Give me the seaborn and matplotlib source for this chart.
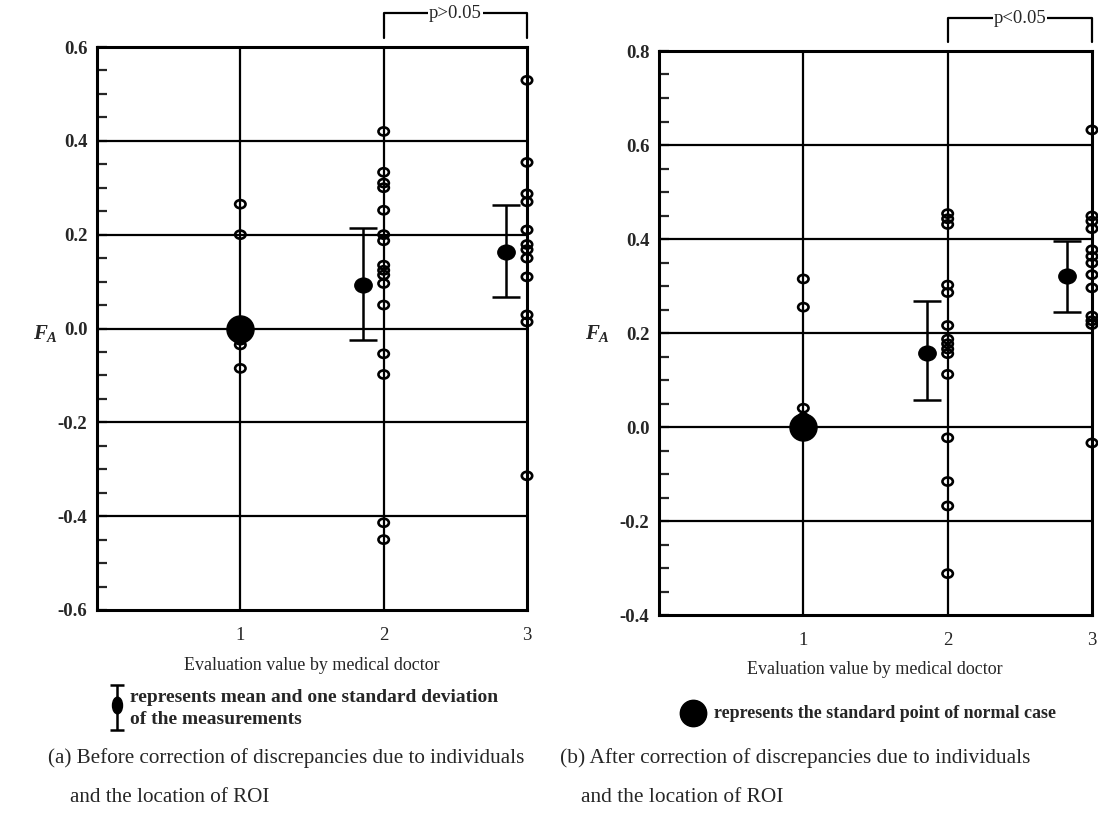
import numpy as np
import pandas as pd
import matplotlib
matplotlib.use("Agg")
import matplotlib.pyplot as plt
import seaborn as sns
from matplotlib.path import Path
from matplotlib.ticker import MultipleLocator
import matplotlib.transforms as mtransforms

# ---------------- data ----------------
categories = [1, 2, 3]

# (a) before correction
a_eval1 = [0.265, 0.20, 0.005, -0.005, -0.025, -0.035, -0.085]
a_eval2 = [0.42, 0.333, 0.31, 0.30, 0.252, 0.20, 0.187, 0.135, 0.124, 0.114,
           0.096, 0.05, -0.054, -0.098, -0.414, -0.45]
a_eval3 = [0.529, 0.354, 0.287, 0.27, 0.21, 0.179, 0.168, 0.15, 0.11, 0.029,
           0.014, -0.314]
a_mean_x = [1.855, 2.855]
a_mean = [0.093, 0.164]
a_upper = [0.214, 0.263]
a_lower = [-0.024, 0.068]
a_yticks = [-0.6, -0.4, -0.2, 0.0, 0.2, 0.4, 0.6]
a_ylim = (-0.6, 0.6)
a_ptext = "p>0.05"

# (b) after correction
b_eval1 = [0.315, 0.255, 0.04, 0.02]
b_eval2 = [0.454, 0.443, 0.431, 0.302, 0.286, 0.216, 0.187, 0.177, 0.166,
           0.156, 0.112, -0.023, -0.116, -0.168, -0.312]
b_eval3 = [0.632, 0.449, 0.438, 0.422, 0.377, 0.363, 0.349, 0.324, 0.296,
           0.236, 0.226, 0.218, -0.034]
b_mean_x = [1.855, 2.83]
b_mean = [0.157, 0.321]
b_upper = [0.268, 0.396]
b_lower = [0.058, 0.244]
b_yticks = [-0.4, -0.2, 0.0, 0.2, 0.4, 0.6, 0.8]
b_ylim = (-0.4, 0.8)
b_ptext = "p<0.05"

standard_point = (1, 0.0)

xlabel = "Evaluation value by medical doctor"
legend_a = ["represents mean and one standard deviation", "of the measurements"]
legend_b = "represents the standard point of normal case"
caption_a = ["(a) Before correction of discrepancies due to individuals",
             "and the location of ROI"]
caption_b = ["(b) After correction of discrepancies due to individuals",
             "and the location of ROI"]

# ---------------- style ----------------
sns.set_style("white")
SERIF = ["Liberation Serif", "DejaVu Serif"]
plt.rcParams["font.family"] = SERIF
plt.rcParams["mathtext.fontset"] = "custom"
plt.rcParams["mathtext.it"] = "Liberation Serif:italic:bold"
plt.rcParams["mathtext.rm"] = "Liberation Serif:bold"

W, H = 1098, 823
fig = plt.figure(figsize=(W / 100, H / 100), dpi=100)
fig.patch.set_facecolor("white")

circ = Path.unit_circle()
ellipse = Path(circ.vertices * np.array([1.0, 0.78]), circ.codes)
fat_ellipse = Path(circ.vertices * np.array([1.0, 0.85]), circ.codes)


def px2fig(x, y):
    return x / W, 1 - y / H


def make_panel(rect, e1, e2, e3, mx, mm, mu, ml, yticks, ylim, ptext, plab_y):
    ax = fig.add_axes(rect)
    df = pd.DataFrame({
        "x": [1] * len(e1) + [2] * len(e2) + [3] * len(e3),
        "y": e1 + e2 + e3,
    })
    ax.set_xlim(0, 3)
    ax.set_ylim(*ylim)
    # grid
    for yv in yticks[1:-1]:
        ax.axhline(yv, color="black", lw=1.6, zorder=1)
    for xv in categories[:-1]:
        ax.axvline(xv, color="black", lw=1.6, zorder=1)
    for s in ax.spines.values():
        s.set_linewidth(2.2)
        s.set_color("black")
        s.set_zorder(2)
    # standard point
    ax.plot([standard_point[0]], [standard_point[1]], marker="o", ms=19.5,
            color="black", zorder=4, clip_on=False)
    # individual measurements (hollow rings)
    sns.scatterplot(data=df, x="x", y="y", ax=ax, marker=ellipse, s=56,
                    facecolor="none", edgecolor="black", linewidth=1.9,
                    zorder=5, clip_on=False, legend=False)
    # means and SD
    mm = np.array(mm); mu = np.array(mu); ml = np.array(ml)
    ax.errorbar(mx, mm, yerr=[mm - ml, mu - mm], fmt="none", ecolor="black",
                elinewidth=1.8, capsize=10, capthick=1.8, zorder=6)
    ax.plot(mx, mm, linestyle="none", marker=fat_ellipse, ms=12.5,
            color="black", zorder=7)
    # ticks
    ax.set_xticks(categories)
    ax.set_xticklabels([str(c) for c in categories])
    ax.set_yticks(yticks)
    ax.set_yticklabels([f"{t:.1f}" for t in yticks], fontweight="bold")
    ax.yaxis.set_minor_locator(MultipleLocator(0.05))
    ax.tick_params(axis="x", length=0, pad=12, labelsize=13.5)
    ax.tick_params(axis="y", which="both", direction="in", length=7,
                   width=1.6, pad=7, labelsize=13.5, left=True)
    ax.set_xlabel("")
    ax.set_ylabel("")
    # p-value bracket
    trans = mtransforms.blended_transform_factory(ax.transData, ax.transAxes)
    ax.plot([2, 2, 3, 3], [1.016, plab_y, plab_y, 1.016], color="black",
            lw=1.6, transform=trans, clip_on=False)
    ax.text(2.5, plab_y, ptext, transform=trans, ha="center", va="center",
            fontsize=13.5, bbox=dict(facecolor="white", edgecolor="none",
                                     pad=0.6))
    return ax


ax1 = make_panel([97 / W, 1 - 610 / H, 430 / W, 563 / H],
                 a_eval1, a_eval2, a_eval3, a_mean_x, a_mean, a_upper, a_lower,
                 a_yticks, a_ylim, a_ptext, 1.060)
ax2 = make_panel([659 / W, 1 - 615 / H, 433 / W, 564 / H],
                 b_eval1, b_eval2, b_eval3, b_mean_x, b_mean, b_upper, b_lower,
                 b_yticks, b_ylim, b_ptext, 1.058)

# y labels
fig.text(*px2fig(46, 333), "$F_A$", fontsize=15, ha="center", va="center")
fig.text(*px2fig(598, 333), "$F_A$", fontsize=15, ha="center", va="center")

# x labels
fig.text(*px2fig(312, 665), xlabel, fontsize=13, ha="center", va="center")
fig.text(*px2fig(875, 670), xlabel, fontsize=13, ha="center", va="center")

# legend glyphs (overlay axes in pixel space)
ov = fig.add_axes([0, 0, 1, 1], facecolor="none")
ov.set_xlim(0, W)
ov.set_ylim(H, 0)
ov.axis("off")
ov.errorbar([117], [707], yerr=[[22], [23]], fmt="none", ecolor="black",
            elinewidth=1.8, capsize=5, capthick=1.8)
ov.plot([117], [705], marker=Path(circ.vertices * np.array([0.6, 1.0]), circ.codes),
        ms=12, color="black", linestyle="none")
ov.plot([693], [713], marker="o", ms=19, color="black", linestyle="none")

fig.text(*px2fig(130, 697), legend_a[0], fontsize=14, fontweight="bold",
         ha="left", va="center")
fig.text(*px2fig(130, 719), legend_a[1], fontsize=14, fontweight="bold",
         ha="left", va="center")
fig.text(*px2fig(714, 713), legend_b, fontsize=13.0, fontweight="bold",
         ha="left", va="center")

# captions
fig.text(*px2fig(48, 758), caption_a[0], fontsize=15.2, ha="left", va="center")
fig.text(*px2fig(70, 798), caption_a[1], fontsize=15.2, ha="left", va="center")
fig.text(*px2fig(560, 758), caption_b[0], fontsize=15.4, ha="left", va="center")
fig.text(*px2fig(581, 798), caption_b[1], fontsize=15.4, ha="left", va="center")

fig.savefig("out.png", dpi=100, facecolor="white")
